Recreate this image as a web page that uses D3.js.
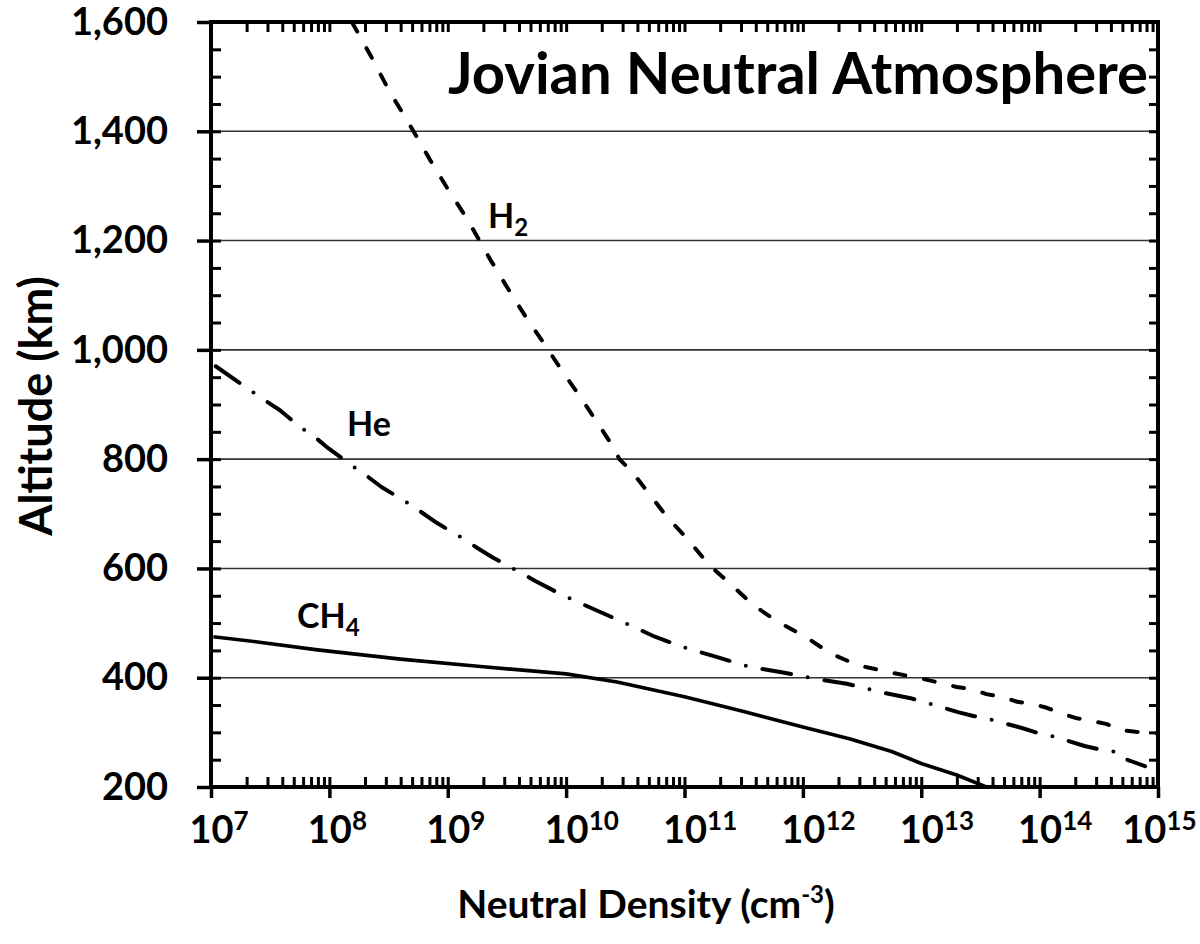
<!DOCTYPE html>
<html>
<head>
<meta charset="utf-8">
<script src="https://cdn.jsdelivr.net/npm/d3@7"></script>
<style>
  html, body { margin: 0; padding: 0; background: #fff; }
  svg text { font-family: Lato, "Open Sans", sans-serif; fill: #000; }
</style>
</head>
<body>
<svg id="chart" width="1200" height="944"></svg>
<script>
// ---------- data (density exponents log10(cm^-3), altitude km) ----------
const h2LogDensity = [8.19, 8.37, 8.51, 8.64, 8.85, 8.99, 9.16, 9.36, 9.50, 9.66, 9.84, 9.97, 10.12, 10.26, 10.40, 10.45, 10.56, 10.71, 10.85, 11.02, 11.21, 11.38, 11.58, 11.79, 12.02, 12.23, 12.46, 12.73, 12.99, 13.17, 13.30, 13.43, 13.55, 13.68, 13.81, 13.94, 14.06, 14.19, 14.31, 14.44, 14.57, 14.68, 14.91, 15.0];
const h2Altitude   = [1600, 1530, 1472, 1426, 1348, 1298, 1241, 1165, 1115, 1060, 1003, 960, 914, 868, 822, 800, 776, 734, 695, 655, 606, 573, 533, 502, 475, 445, 423, 410, 399, 390, 383, 379, 370, 365, 356, 352, 345, 334, 326, 321, 315, 304, 299, 298];

const heLogDensity = [7.04, 7.41, 7.58, 7.75, 7.88, 7.99, 8.20, 8.33, 8.44, 8.66, 8.79, 8.91, 9.12, 9.26, 9.38, 9.61, 9.74, 9.97, 10.25, 10.5, 10.75, 10.99, 11.27, 11.55, 11.82, 12.08, 12.37, 12.65, 12.90, 13.05, 13.31, 13.44, 13.58, 13.85, 13.98, 14.11, 14.38, 14.52, 14.65, 14.69, 14.89];
const heAltitude   = [970, 914, 890, 859, 840, 820, 787, 767, 749, 720, 701, 683, 656, 636, 620, 593, 577, 551, 524, 500, 475, 456, 438, 420, 410, 399, 389, 374, 363, 354, 337, 330, 324, 308, 299, 293, 275, 268, 264, 254, 238];

const ch4LogDensity = [7.02, 7.41, 7.90, 8.60, 9.30, 10.0, 10.43, 11.0, 11.5, 12.0, 12.4, 12.75, 13.0, 13.3, 13.55];
const ch4Altitude   = [475, 465, 451, 434, 420, 407, 392, 365, 338, 310, 288, 265, 243, 222, 200];

const xDecades = [7, 8, 9, 10, 11, 12, 13, 14, 15];
const yTicks = [200, 400, 600, 800, 1000, 1200, 1400, 1600];
const gridValues = [400, 600, 800, 1000, 1200, 1400];

const chartTitle = "Jovian Neutral Atmosphere";
const xTitle = "Neutral Density (cm";
const xTitleSup = "-3";
const yTitle = "Altitude (km)";

// ---------- layout ----------
const L = 211, R = 1158, T = 22, B = 787;
const svg = d3.select("#chart");

const x = d3.scaleLog().domain([1e7, 1e15]).range([L, R]);
const y = d3.scaleLinear().domain([200, 1600]).range([B, T]);

const minorX = [];
for (let d = 7; d < 15; d++) for (let m = 1; m <= 9; m++) minorX.push(m * Math.pow(10, d));
minorX.push(1e15);
const minorY = d3.range(200, 1601, 50);

// gridlines
svg.append("g").selectAll("line").data(gridValues).join("line")
  .attr("x1", L).attr("x2", R)
  .attr("y1", d => y(d)).attr("y2", d => y(d))
  .attr("stroke", "#333").attr("stroke-width", 1.6);

// ---------- curves ----------
const line = d3.line().x(d => x(d[0])).y(d => y(d[1])).curve(d3.curveLinear);
const toPts = (lx, ys) => lx.map((v, i) => [Math.pow(10, v), ys[i]]);

svg.append("clipPath").attr("id", "plotclip")
  .append("rect").attr("x", L).attr("y", T).attr("width", R - L).attr("height", B - T);

const curves = svg.append("g").attr("clip-path", "url(#plotclip)");
curves.append("path").datum(toPts(ch4LogDensity, ch4Altitude))
  .attr("d", line).attr("fill", "none").attr("stroke", "#000")
  .attr("stroke-width", 3.6).attr("stroke-linejoin", "round");
curves.append("path").datum(toPts(heLogDensity, heAltitude))
  .attr("d", line).attr("fill", "none").attr("stroke", "#000")
  .attr("stroke-width", 4).attr("stroke-linecap", "round").attr("stroke-linejoin", "round")
  .attr("stroke-dasharray", "29,17,0,17");
curves.append("path").datum(toPts(h2LogDensity, h2Altitude))
  .attr("d", line).attr("fill", "none").attr("stroke", "#000")
  .attr("stroke-width", 4).attr("stroke-linecap", "round").attr("stroke-linejoin", "round")
  .attr("stroke-dasharray", "11,19");

// ---------- axes ----------
function styleAxis(g) {
  g.select(".domain").remove();
  g.selectAll(".tick line").attr("stroke", "#000").attr("stroke-width", 3);
}
// bottom inner ticks (all)
svg.append("g").attr("transform", `translate(0,${B})`)
  .call(d3.axisTop(x).tickValues(minorX).tickSize(10).tickFormat(""))
  .call(styleAxis);
// top inner ticks
svg.append("g").attr("transform", `translate(0,${T})`)
  .call(d3.axisBottom(x).tickValues(minorX).tickSize(10).tickFormat(""))
  .call(styleAxis);
// bottom major outward ticks + labels
const xAx = svg.append("g").attr("transform", `translate(0,${B})`)
  .call(d3.axisBottom(x).tickValues(xDecades.map(d => Math.pow(10, d))).tickSize(11).tickFormat(""))
  .call(styleAxis);
xAx.selectAll(".tick line").attr("stroke-width", 3.5);
xAx.selectAll(".tick").each(function(d, i) {
  const t = d3.select(this).select("text");
  t.text(null).attr("y", 56).attr("dy", 0).attr("text-anchor", "start")
    .attr("font-size", 38).attr("font-weight", "bold");
  t.append("tspan").text("10");
  t.append("tspan").attr("font-size", 26).attr("dy", -13).text(String(xDecades[i]));
  const w = t.node().getSubStringLength(0, 2);
  if (i === xDecades.length - 1) {
    const total = t.node().getComputedTextLength();
    t.attr("x", 38 - total);
  } else {
    t.attr("x", -w / 2);
  }
});
// left inner ticks
svg.append("g").attr("transform", `translate(${L},0)`)
  .call(d3.axisRight(y).tickValues(minorY).tickSize(10).tickFormat(""))
  .call(styleAxis);
// right inner ticks
svg.append("g").attr("transform", `translate(${R},0)`)
  .call(d3.axisLeft(y).tickValues(minorY).tickSize(9).tickFormat(""))
  .call(styleAxis);
// left major outward ticks + labels
const yAx = svg.append("g").attr("transform", `translate(${L},0)`)
  .call(d3.axisLeft(y).tickValues(yTicks).tickSize(14).tickPadding(29).tickFormat(d3.format(",")))
  .call(styleAxis);
yAx.selectAll(".tick line").attr("stroke-width", 3.5);
yAx.selectAll(".tick text").attr("font-size", 38).attr("font-weight", "bold")
  .style("font-family", "Lato, sans-serif").attr("fill", "#000");
xAx.selectAll(".tick text").style("font-family", "Lato, sans-serif").attr("fill", "#000");

// frame
svg.append("rect").attr("x", L).attr("y", T).attr("width", R - L).attr("height", B - T)
  .attr("fill", "none").attr("stroke", "#000").attr("stroke-width", 4);

// ---------- texts ----------
svg.append("text").attr("x", 1148).attr("y", 94).attr("text-anchor", "end")
  .attr("font-size", 58).attr("font-weight", "bold").text(chartTitle);

const xt = svg.append("text").attr("x", 646).attr("y", 918).attr("text-anchor", "middle")
  .attr("font-size", 39).attr("font-weight", "bold");
xt.append("tspan").text(xTitle);
xt.append("tspan").attr("font-size", 24).attr("dy", -15).text(xTitleSup);
xt.append("tspan").attr("dy", 15).text(")");

svg.append("text").attr("transform", "translate(52,406) rotate(-90)")
  .attr("text-anchor", "middle").attr("font-size", 45).attr("font-weight", "bold").text(yTitle);

// series labels
function label(px, py, main, sub) {
  const t = svg.append("text").attr("x", px).attr("y", py).attr("font-size", 34).attr("font-weight", "bold");
  t.append("tspan").text(main);
  if (sub) t.append("tspan").attr("font-size", 24).attr("dy", 8).text(sub);
}
label(488, 228, "H", "2");
label(347, 436, "He");
label(297, 628, "CH", "4");
</script>
</body>
</html>
